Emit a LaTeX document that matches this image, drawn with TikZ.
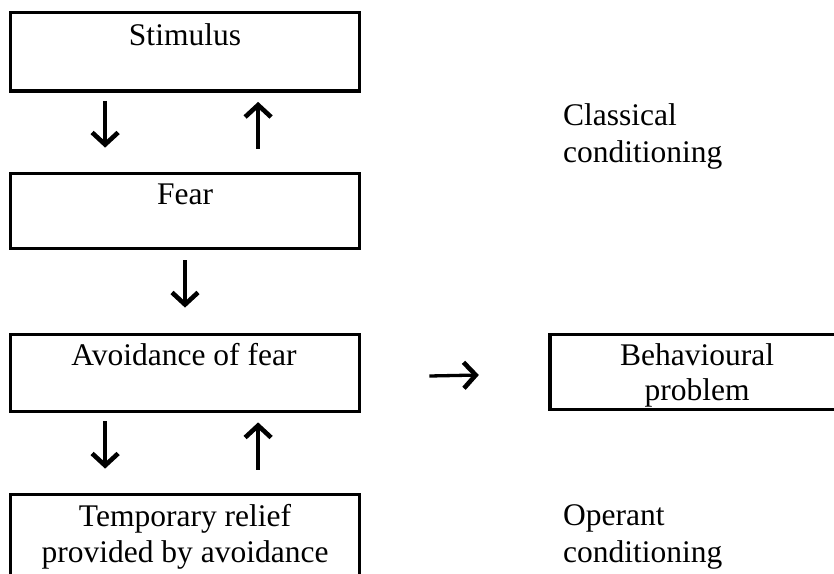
\documentclass[tikz,border=0pt]{standalone}
\usepackage{fontspec}
\setmainfont{Liberation Serif}
\usetikzlibrary{arrows.meta,calc}
\begin{document}
\begin{tikzpicture}[x=1pt,y=-1pt,
  box/.style={draw, line width=3.8pt, inner sep=0pt, rectangle},
  txt/.style={font=\fontsize{31.5}{36.5}\selectfont, inner sep=0pt, anchor=base},
  txtl/.style={font=\fontsize{31.5}{36.5}\selectfont, inner sep=0pt, anchor=base west},
  arr/.style={line width=3.3pt, -{Straight Barb[length=12pt,width=26pt,line width=4.6pt]}}]
\useasboundingbox (0,0) rectangle (834,573);
% boxes
\node[box, minimum width=349pt, minimum height=78.5pt] (stim) at (185,51.75) {};
\node[box, minimum width=349pt, minimum height=75pt] (fear) at (185,211) {};
\node[box, minimum width=349pt, minimum height=77pt] (avoid) at (185,373) {};
\node[box, minimum width=349pt, minimum height=125pt] (relief) at (185,557) {};
\node[box, minimum width=350pt, minimum height=75pt] (behav) at (724.75,372) {};
% texts
\node[txt] (tstim) at (185,45) {Stimulus};
\node[txt] (tfear) at (185,204) {Fear};
\node[txt] (tavoid) at (184,365) {Avoidance of fear};
\node[txt] (trel1) at (185,526) {Temporary relief};
\node[txt] (trel2) at (185,562) {provided by avoidance};
\node[txt] (tbeh1) at (697,365) {Behavioural};
\node[txt] (tbeh2) at (697,400) {problem};
\node[txtl] (tcl1) at (563,125) {Classical};
\node[txtl] (tcl2) at (563,162) {conditioning};
\node[txtl] (top1) at (563,525) {Operant};
\node[txtl] (top2) at (563,562) {conditioning};
% arrows
\draw[arr] ($(stim.south west)+(96.5,8)$) -- ($(fear.north west)+(96.5,-24)$);
\draw[arr] ($(fear.north west)+(249.5,-23)$) -- ($(stim.south west)+(249.5,9)$);
\draw[arr] ($(fear.south)+(0,10)$) -- ($(avoid.north)+(0,-25)$);
\draw[arr] ($(avoid.south west)+(96.5,8)$) -- ($(relief.north west)+(96.5,-24)$);
\draw[arr] ($(relief.north west)+(249.5,-23)$) -- ($(avoid.south west)+(249.5,9)$);
\draw[arr] ($(avoid.east)+(68,3)$) -- ($(behav.west)+(-69,3)$);
\end{tikzpicture}
\end{document}
